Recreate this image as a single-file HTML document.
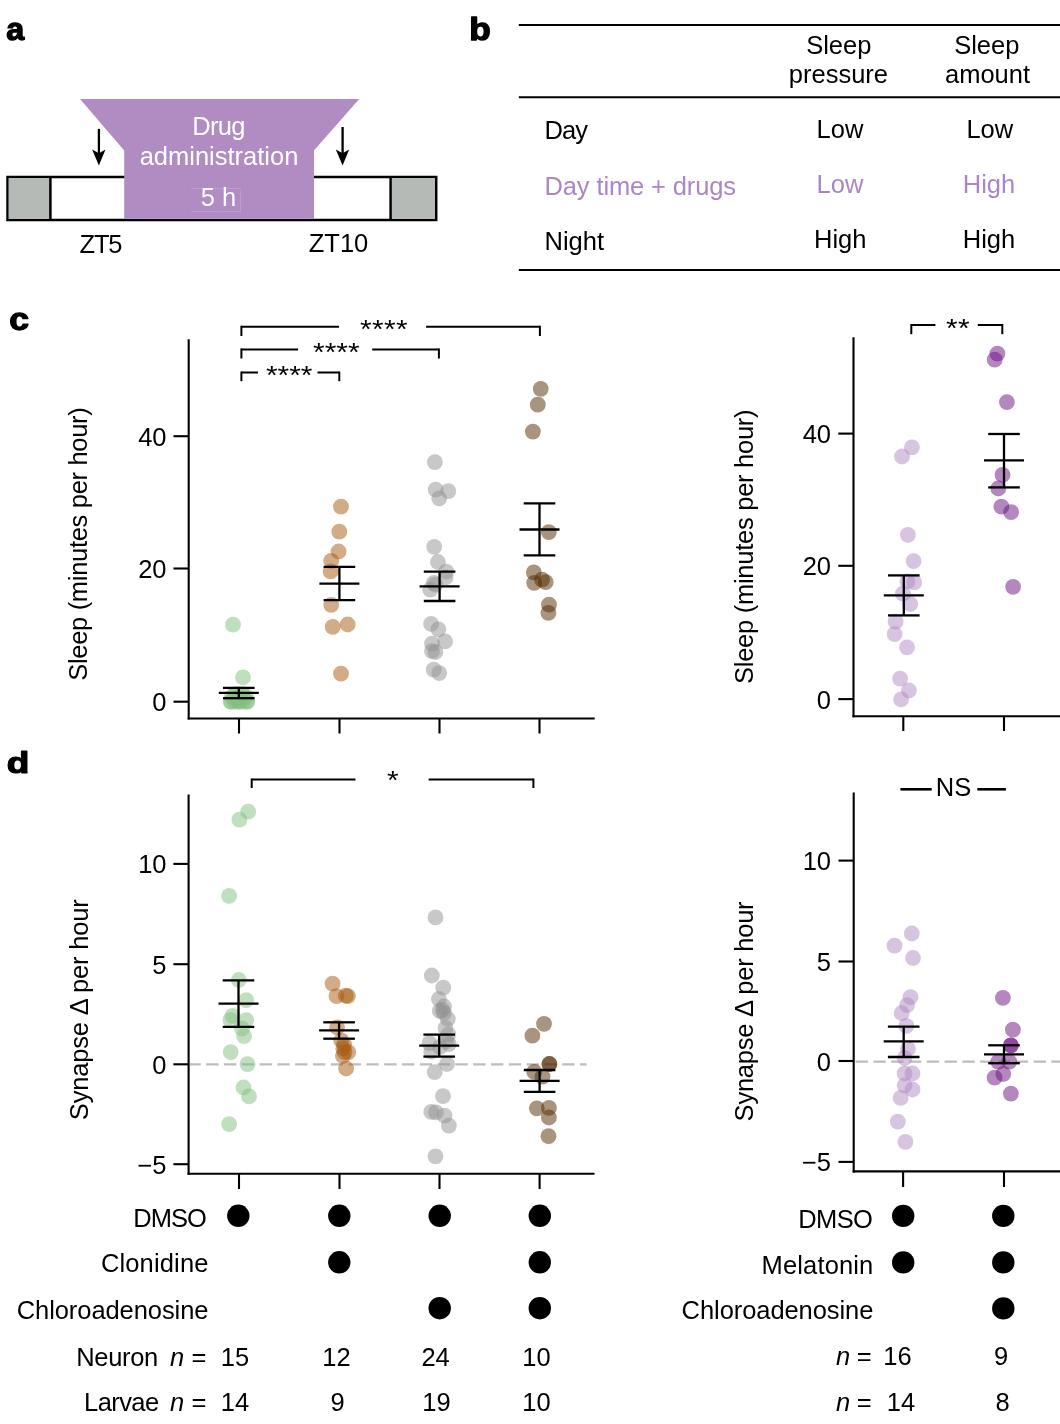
<!DOCTYPE html>
<html><head><meta charset="utf-8"><title>Figure</title>
<style>
html,body{margin:0;padding:0;background:#fff;}
body{width:1060px;height:1424px;overflow:hidden;}
svg{display:block;font-family:"Liberation Sans", sans-serif;will-change:transform;}
</style></head><body>
<svg width="1060" height="1424" viewBox="0 0 1060 1424">
<rect width="1060" height="1424" fill="#fff"/>
<text transform="translate(6.25,39.60) scale(1.011,0.997)" font-size="32" font-weight="bold" stroke="#000" stroke-width="1.3" stroke-linejoin="round">a</text>
<text transform="translate(469.15,39.51) scale(1.101,0.986)" font-size="32" font-weight="bold" stroke="#000" stroke-width="1.3" stroke-linejoin="round">b</text>
<text transform="translate(9.24,329.62) scale(1.112,0.976)" font-size="32" font-weight="bold" stroke="#000" stroke-width="1.3" stroke-linejoin="round">c</text>
<text transform="translate(6.63,773.25) scale(1.154,0.949)" font-size="32" font-weight="bold" stroke="#000" stroke-width="1.3" stroke-linejoin="round">d</text>
<rect x="7.5" y="177" width="428.7" height="43" fill="#fff" stroke="#000" stroke-width="2.5"/>
<rect x="8.75" y="178.25" width="41.6" height="40.5" fill="#B5BAB7"/>
<rect x="391.8" y="178.25" width="43.2" height="40.5" fill="#B5BAB7"/>
<line x1="50.4" y1="177" x2="50.4" y2="220" stroke="#000" stroke-width="2.5" />
<line x1="390.6" y1="177" x2="390.6" y2="220" stroke="#000" stroke-width="2.5" />
<polygon points="80,99 359.2,99 314,150.4 314,218.7 124.2,218.7 124.2,150.4" fill="#B08CC3"/>
<line x1="98.9" y1="128.9" x2="98.9" y2="156" stroke="#000" stroke-width="2.3" />
<polygon points="92.10000000000001,149.6 98.9,153.2 105.5,149.6 98.9,165.5" fill="#000"/>
<line x1="342.6" y1="127" x2="342.6" y2="156" stroke="#000" stroke-width="2.3" />
<polygon points="335.8,149.6 342.6,153.2 349.20000000000005,149.6 342.6,165.5" fill="#000"/>
<text x="218.9" y="135.1" text-anchor="middle" font-size="25.5" fill="#fff" font-weight="normal"  textLength="53.3" lengthAdjust="spacing">Drug</text>
<text x="219" y="165.3" text-anchor="middle" font-size="25.5" fill="#fff" font-weight="normal" >administration</text>
<path d="M191.1 188.6 H240.8 M240.6 191 V211.6 M191.1 211.6 H220.3 M221.3 211.6 H240.8" stroke="#BFA2D0" stroke-width="0.9" fill="none"/>
<text x="218.5" y="206.1" text-anchor="middle" font-size="25.5" fill="#fff" font-weight="normal" >5 h</text>
<text x="101" y="252.7" text-anchor="middle" font-size="25.5" fill="#000" font-weight="normal"  textLength="43" lengthAdjust="spacing">ZT5</text>
<text x="338.5" y="252" text-anchor="middle" font-size="25.5" fill="#000" font-weight="normal" >ZT10</text>
<line x1="518.8" y1="25" x2="1060" y2="25" stroke="#000" stroke-width="2" />
<line x1="518.8" y1="97.2" x2="1060" y2="97.2" stroke="#000" stroke-width="2" />
<line x1="518.8" y1="270" x2="1060" y2="270" stroke="#000" stroke-width="2" />
<text x="838.8" y="54.4" text-anchor="middle" font-size="25.5" fill="#000" font-weight="normal" >Sleep</text>
<text x="838.4" y="82.9" text-anchor="middle" font-size="25.5" fill="#000" font-weight="normal" >pressure</text>
<text x="986.8" y="54.4" text-anchor="middle" font-size="25.5" fill="#000" font-weight="normal" >Sleep</text>
<text x="987.5" y="82.9" text-anchor="middle" font-size="25.5" fill="#000" font-weight="normal" >amount</text>
<text x="544.5" y="138.8" text-anchor="start" font-size="25.5" fill="#000" font-weight="normal"  textLength="43.4" lengthAdjust="spacing">Day</text>
<text x="840" y="137.9" text-anchor="middle" font-size="25.5" fill="#000" font-weight="normal" >Low</text>
<text x="989.8" y="137.9" text-anchor="middle" font-size="25.5" fill="#000" font-weight="normal" >Low</text>
<text x="544.5" y="194.8" text-anchor="start" font-size="25.5" fill="#AC86C4" font-weight="normal"  textLength="191.6" lengthAdjust="spacing">Day time + drugs</text>
<text x="840" y="192.8" text-anchor="middle" font-size="25.5" fill="#AC86C4" font-weight="normal" >Low</text>
<text x="989" y="192.8" text-anchor="middle" font-size="25.5" fill="#AC86C4" font-weight="normal" >High</text>
<text x="544.5" y="249.6" text-anchor="start" font-size="25.5" fill="#000" font-weight="normal" >Night</text>
<text x="840.2" y="247.8" text-anchor="middle" font-size="25.5" fill="#000" font-weight="normal" >High</text>
<text x="989" y="247.8" text-anchor="middle" font-size="25.5" fill="#000" font-weight="normal" >High</text>
<line x1="188.7" y1="339.2" x2="188.7" y2="719.5" stroke="#000" stroke-width="2.1" />
<line x1="173.5" y1="701.7" x2="188.7" y2="701.7" stroke="#000" stroke-width="2.1" />
<text x="166.5" y="711.2" text-anchor="end" font-size="25.5" fill="#000" font-weight="normal" >0</text>
<line x1="173.5" y1="568.5" x2="188.7" y2="568.5" stroke="#000" stroke-width="2.1" />
<text x="166.5" y="578.0" text-anchor="end" font-size="25.5" fill="#000" font-weight="normal" >20</text>
<line x1="173.5" y1="436.2" x2="188.7" y2="436.2" stroke="#000" stroke-width="2.1" />
<text x="166.5" y="445.7" text-anchor="end" font-size="25.5" fill="#000" font-weight="normal" >40</text>
<line x1="187.7" y1="718.5" x2="594.7" y2="718.5" stroke="#000" stroke-width="2.1" />
<line x1="239" y1="718.5" x2="239" y2="733.5" stroke="#000" stroke-width="2.1" />
<line x1="339.5" y1="718.5" x2="339.5" y2="733.5" stroke="#000" stroke-width="2.1" />
<line x1="439.5" y1="718.5" x2="439.5" y2="733.5" stroke="#000" stroke-width="2.1" />
<line x1="539.5" y1="718.5" x2="539.5" y2="733.5" stroke="#000" stroke-width="2.1" />
<text x="0" y="0" text-anchor="middle" font-size="25.5" textLength="273.6" lengthAdjust="spacing" transform="translate(87.3,544) rotate(-90)">Sleep (minutes per hour)</text>
<line x1="241.4" y1="326.7" x2="339" y2="326.7" stroke="#000" stroke-width="2" />
<line x1="426.1" y1="326.7" x2="539.9" y2="326.7" stroke="#000" stroke-width="2" />
<line x1="241.4" y1="325.7" x2="241.4" y2="336" stroke="#000" stroke-width="2" />
<line x1="539.9" y1="325.7" x2="539.9" y2="336" stroke="#000" stroke-width="2" />
<text x="0" y="0" text-anchor="middle" font-size="25.5" transform="translate(365.69,337.6) scale(1.17,1.03)">*</text>
<text x="0" y="0" text-anchor="middle" font-size="25.5" transform="translate(377.76,337.6) scale(1.17,1.03)">*</text>
<text x="0" y="0" text-anchor="middle" font-size="25.5" transform="translate(389.84,337.6) scale(1.17,1.03)">*</text>
<text x="0" y="0" text-anchor="middle" font-size="25.5" transform="translate(401.91,337.6) scale(1.17,1.03)">*</text>
<line x1="241.4" y1="349.4" x2="298.1" y2="349.4" stroke="#000" stroke-width="2" />
<line x1="372.2" y1="349.4" x2="438.9" y2="349.4" stroke="#000" stroke-width="2" />
<line x1="241.4" y1="348.4" x2="241.4" y2="358.5" stroke="#000" stroke-width="2" />
<line x1="438.9" y1="348.4" x2="438.9" y2="358.5" stroke="#000" stroke-width="2" />
<text x="0" y="0" text-anchor="middle" font-size="25.5" transform="translate(318.90,361.2) scale(1.17,1.03)">*</text>
<text x="0" y="0" text-anchor="middle" font-size="25.5" transform="translate(330.50,361.2) scale(1.17,1.03)">*</text>
<text x="0" y="0" text-anchor="middle" font-size="25.5" transform="translate(342.10,361.2) scale(1.17,1.03)">*</text>
<text x="0" y="0" text-anchor="middle" font-size="25.5" transform="translate(353.70,361.2) scale(1.17,1.03)">*</text>
<line x1="241.4" y1="372.5" x2="258" y2="372.5" stroke="#000" stroke-width="2" />
<line x1="317.5" y1="372.5" x2="339.3" y2="372.5" stroke="#000" stroke-width="2" />
<line x1="241.4" y1="371.5" x2="241.4" y2="381.2" stroke="#000" stroke-width="2" />
<line x1="339.3" y1="371.5" x2="339.3" y2="381.2" stroke="#000" stroke-width="2" />
<text x="0" y="0" text-anchor="middle" font-size="25.5" transform="translate(271.80,384.1) scale(1.17,1.03)">*</text>
<text x="0" y="0" text-anchor="middle" font-size="25.5" transform="translate(283.40,384.1) scale(1.17,1.03)">*</text>
<text x="0" y="0" text-anchor="middle" font-size="25.5" transform="translate(295.00,384.1) scale(1.17,1.03)">*</text>
<text x="0" y="0" text-anchor="middle" font-size="25.5" transform="translate(306.60,384.1) scale(1.17,1.03)">*</text>
<circle cx="233" cy="624.7" r="7.9" fill="#81BF7D" fill-opacity="0.5"/>
<circle cx="243" cy="677.4" r="7.9" fill="#81BF7D" fill-opacity="0.5"/>
<circle cx="231" cy="701.7" r="7.9" fill="#81BF7D" fill-opacity="0.5"/>
<circle cx="235" cy="701.7" r="7.9" fill="#81BF7D" fill-opacity="0.5"/>
<circle cx="239" cy="701.7" r="7.9" fill="#81BF7D" fill-opacity="0.5"/>
<circle cx="243" cy="701.7" r="7.9" fill="#81BF7D" fill-opacity="0.5"/>
<circle cx="247" cy="701.7" r="7.9" fill="#81BF7D" fill-opacity="0.5"/>
<circle cx="231" cy="701.7" r="7.9" fill="#81BF7D" fill-opacity="0.5"/>
<circle cx="247" cy="701.7" r="7.9" fill="#81BF7D" fill-opacity="0.5"/>
<circle cx="239" cy="701.7" r="7.9" fill="#81BF7D" fill-opacity="0.5"/>
<circle cx="232" cy="696.5" r="7.9" fill="#81BF7D" fill-opacity="0.5"/>
<circle cx="246" cy="696.5" r="7.9" fill="#81BF7D" fill-opacity="0.5"/>
<circle cx="236" cy="694" r="7.9" fill="#81BF7D" fill-opacity="0.5"/>
<circle cx="242" cy="694" r="7.9" fill="#81BF7D" fill-opacity="0.5"/>
<circle cx="341" cy="506.6" r="7.9" fill="#A5590F" fill-opacity="0.5"/>
<circle cx="339.3" cy="531.7" r="7.9" fill="#A5590F" fill-opacity="0.5"/>
<circle cx="338.6" cy="551.5" r="7.9" fill="#A5590F" fill-opacity="0.5"/>
<circle cx="331.2" cy="560.9" r="7.9" fill="#A5590F" fill-opacity="0.5"/>
<circle cx="330.6" cy="571.4" r="7.9" fill="#A5590F" fill-opacity="0.5"/>
<circle cx="331.2" cy="604.8" r="7.9" fill="#A5590F" fill-opacity="0.5"/>
<circle cx="332.7" cy="626.8" r="7.9" fill="#A5590F" fill-opacity="0.5"/>
<circle cx="347.7" cy="624.5" r="7.9" fill="#A5590F" fill-opacity="0.5"/>
<circle cx="341" cy="673.6" r="7.9" fill="#A5590F" fill-opacity="0.5"/>
<circle cx="434.9" cy="462.1" r="7.9" fill="#919191" fill-opacity="0.5"/>
<circle cx="435.7" cy="489.6" r="7.9" fill="#919191" fill-opacity="0.5"/>
<circle cx="448.3" cy="491.2" r="7.9" fill="#919191" fill-opacity="0.5"/>
<circle cx="439.2" cy="498.3" r="7.9" fill="#919191" fill-opacity="0.5"/>
<circle cx="434.2" cy="546.8" r="7.9" fill="#919191" fill-opacity="0.5"/>
<circle cx="437.9" cy="562" r="7.9" fill="#919191" fill-opacity="0.5"/>
<circle cx="446.3" cy="571.6" r="7.9" fill="#919191" fill-opacity="0.5"/>
<circle cx="445.5" cy="577.4" r="7.9" fill="#919191" fill-opacity="0.5"/>
<circle cx="433.7" cy="583" r="7.9" fill="#919191" fill-opacity="0.5"/>
<circle cx="435.4" cy="584.7" r="7.9" fill="#919191" fill-opacity="0.5"/>
<circle cx="430.3" cy="589.7" r="7.9" fill="#919191" fill-opacity="0.5"/>
<circle cx="431.1" cy="623.9" r="7.9" fill="#919191" fill-opacity="0.5"/>
<circle cx="438.4" cy="629.3" r="7.9" fill="#919191" fill-opacity="0.5"/>
<circle cx="445.1" cy="641.4" r="7.9" fill="#919191" fill-opacity="0.5"/>
<circle cx="432" cy="643.6" r="7.9" fill="#919191" fill-opacity="0.5"/>
<circle cx="432" cy="651.2" r="7.9" fill="#919191" fill-opacity="0.5"/>
<circle cx="435.4" cy="652" r="7.9" fill="#919191" fill-opacity="0.5"/>
<circle cx="433.7" cy="669.7" r="7.9" fill="#919191" fill-opacity="0.5"/>
<circle cx="439.2" cy="673.1" r="7.9" fill="#919191" fill-opacity="0.5"/>
<circle cx="540.7" cy="388.8" r="7.9" fill="#512900" fill-opacity="0.5"/>
<circle cx="537.8" cy="404.7" r="7.9" fill="#512900" fill-opacity="0.5"/>
<circle cx="532.9" cy="431.6" r="7.9" fill="#512900" fill-opacity="0.5"/>
<circle cx="548.8" cy="532.2" r="7.9" fill="#512900" fill-opacity="0.5"/>
<circle cx="533.8" cy="572.4" r="7.9" fill="#512900" fill-opacity="0.5"/>
<circle cx="534.2" cy="582.8" r="7.9" fill="#512900" fill-opacity="0.5"/>
<circle cx="542" cy="579.7" r="7.9" fill="#512900" fill-opacity="0.5"/>
<circle cx="545.7" cy="582.2" r="7.9" fill="#512900" fill-opacity="0.5"/>
<circle cx="549" cy="604.7" r="7.9" fill="#512900" fill-opacity="0.5"/>
<circle cx="548.4" cy="612.9" r="7.9" fill="#512900" fill-opacity="0.5"/>
<line x1="218.8" y1="692.9" x2="258.8" y2="692.9" stroke="#000" stroke-width="2.3" />
<line x1="223.0" y1="687.9" x2="254.60000000000002" y2="687.9" stroke="#000" stroke-width="2.3" />
<line x1="223.0" y1="698.2" x2="254.60000000000002" y2="698.2" stroke="#000" stroke-width="2.3" />
<line x1="238.8" y1="687.9" x2="238.8" y2="698.2" stroke="#000" stroke-width="2.3" />
<line x1="319.4" y1="583.6" x2="359.4" y2="583.6" stroke="#000" stroke-width="2.3" />
<line x1="323.59999999999997" y1="566.8" x2="355.2" y2="566.8" stroke="#000" stroke-width="2.3" />
<line x1="323.59999999999997" y1="600.2" x2="355.2" y2="600.2" stroke="#000" stroke-width="2.3" />
<line x1="339.4" y1="566.8" x2="339.4" y2="600.2" stroke="#000" stroke-width="2.3" />
<line x1="419.6" y1="586.4" x2="459.6" y2="586.4" stroke="#000" stroke-width="2.3" />
<line x1="423.8" y1="571.6" x2="455.40000000000003" y2="571.6" stroke="#000" stroke-width="2.3" />
<line x1="423.8" y1="601" x2="455.40000000000003" y2="601" stroke="#000" stroke-width="2.3" />
<line x1="439.6" y1="571.6" x2="439.6" y2="601" stroke="#000" stroke-width="2.3" />
<line x1="519.5" y1="529.5" x2="559.5" y2="529.5" stroke="#000" stroke-width="2.3" />
<line x1="523.7" y1="503.3" x2="555.3" y2="503.3" stroke="#000" stroke-width="2.3" />
<line x1="523.7" y1="555.4" x2="555.3" y2="555.4" stroke="#000" stroke-width="2.3" />
<line x1="539.5" y1="503.3" x2="539.5" y2="555.4" stroke="#000" stroke-width="2.3" />
<line x1="853.5" y1="337.3" x2="853.5" y2="717.2" stroke="#000" stroke-width="2.1" />
<line x1="838.3" y1="699.1" x2="853.5" y2="699.1" stroke="#000" stroke-width="2.1" />
<text x="831" y="708.6" text-anchor="end" font-size="25.5" fill="#000" font-weight="normal" >0</text>
<line x1="838.3" y1="565.8" x2="853.5" y2="565.8" stroke="#000" stroke-width="2.1" />
<text x="831" y="575.3" text-anchor="end" font-size="25.5" fill="#000" font-weight="normal" >20</text>
<line x1="838.3" y1="433.6" x2="853.5" y2="433.6" stroke="#000" stroke-width="2.1" />
<text x="831" y="443.1" text-anchor="end" font-size="25.5" fill="#000" font-weight="normal" >40</text>
<line x1="852.5" y1="716.2" x2="1062" y2="716.2" stroke="#000" stroke-width="2.1" />
<line x1="903.3" y1="716.2" x2="903.3" y2="731" stroke="#000" stroke-width="2.1" />
<line x1="1004" y1="716.2" x2="1004" y2="731" stroke="#000" stroke-width="2.1" />
<text x="0" y="0" text-anchor="middle" font-size="25.5" textLength="274.6" lengthAdjust="spacing" transform="translate(752.5,546.7) rotate(-90)">Sleep (minutes per hour)</text>
<line x1="911.3" y1="325" x2="935.4" y2="325" stroke="#000" stroke-width="2" />
<line x1="977.8" y1="325" x2="1002.3" y2="325" stroke="#000" stroke-width="2" />
<line x1="911.3" y1="324" x2="911.3" y2="334.2" stroke="#000" stroke-width="2" />
<line x1="1002.3" y1="324" x2="1002.3" y2="334.2" stroke="#000" stroke-width="2" />
<text x="0" y="0" text-anchor="middle" font-size="25.5" transform="translate(951.87,336.8) scale(1.17,1.03)">*</text>
<text x="0" y="0" text-anchor="middle" font-size="25.5" transform="translate(963.93,336.8) scale(1.17,1.03)">*</text>
<circle cx="911.9" cy="447.3" r="7.9" fill="#AF89C3" fill-opacity="0.5"/>
<circle cx="902" cy="456.5" r="7.9" fill="#AF89C3" fill-opacity="0.5"/>
<circle cx="907.9" cy="534.8" r="7.9" fill="#AF89C3" fill-opacity="0.5"/>
<circle cx="913.6" cy="561.1" r="7.9" fill="#AF89C3" fill-opacity="0.5"/>
<circle cx="914.2" cy="582.4" r="7.9" fill="#AF89C3" fill-opacity="0.5"/>
<circle cx="907.4" cy="581.4" r="7.9" fill="#AF89C3" fill-opacity="0.5"/>
<circle cx="903" cy="593.6" r="7.9" fill="#AF89C3" fill-opacity="0.5"/>
<circle cx="910.3" cy="604" r="7.9" fill="#AF89C3" fill-opacity="0.5"/>
<circle cx="895.6" cy="621.7" r="7.9" fill="#AF89C3" fill-opacity="0.5"/>
<circle cx="894.6" cy="634.1" r="7.9" fill="#AF89C3" fill-opacity="0.5"/>
<circle cx="907" cy="647.3" r="7.9" fill="#AF89C3" fill-opacity="0.5"/>
<circle cx="900.1" cy="678.7" r="7.9" fill="#AF89C3" fill-opacity="0.5"/>
<circle cx="908.9" cy="690.5" r="7.9" fill="#AF89C3" fill-opacity="0.5"/>
<circle cx="901.1" cy="699.4" r="7.9" fill="#AF89C3" fill-opacity="0.5"/>
<circle cx="997.4" cy="353.7" r="7.9" fill="#690F7D" fill-opacity="0.5"/>
<circle cx="994.7" cy="359.7" r="7.9" fill="#690F7D" fill-opacity="0.5"/>
<circle cx="1006.9" cy="402.1" r="7.9" fill="#690F7D" fill-opacity="0.5"/>
<circle cx="1002.5" cy="474.9" r="7.9" fill="#690F7D" fill-opacity="0.5"/>
<circle cx="998.3" cy="488.4" r="7.9" fill="#690F7D" fill-opacity="0.5"/>
<circle cx="1001.4" cy="506.7" r="7.9" fill="#690F7D" fill-opacity="0.5"/>
<circle cx="1011.1" cy="512.2" r="7.9" fill="#690F7D" fill-opacity="0.5"/>
<circle cx="1013.1" cy="586.8" r="7.9" fill="#690F7D" fill-opacity="0.5"/>
<line x1="883.8" y1="595.4" x2="923.8" y2="595.4" stroke="#000" stroke-width="2.3" />
<line x1="888.0" y1="575.4" x2="919.5999999999999" y2="575.4" stroke="#000" stroke-width="2.3" />
<line x1="888.0" y1="615.4" x2="919.5999999999999" y2="615.4" stroke="#000" stroke-width="2.3" />
<line x1="903.8" y1="575.4" x2="903.8" y2="615.4" stroke="#000" stroke-width="2.3" />
<line x1="984" y1="460.3" x2="1024" y2="460.3" stroke="#000" stroke-width="2.3" />
<line x1="988.2" y1="434" x2="1019.8" y2="434" stroke="#000" stroke-width="2.3" />
<line x1="988.2" y1="487.4" x2="1019.8" y2="487.4" stroke="#000" stroke-width="2.3" />
<line x1="1004" y1="434" x2="1004" y2="487.4" stroke="#000" stroke-width="2.3" />
<line x1="188.4" y1="1064.3" x2="586.6" y2="1064.3" stroke="#BDBDBD" stroke-width="2.2" stroke-dasharray="12.3 5.5"/>
<line x1="188.6" y1="794.4" x2="188.6" y2="1174.8" stroke="#000" stroke-width="2.1" />
<line x1="173.4" y1="863.9" x2="188.6" y2="863.9" stroke="#000" stroke-width="2.1" />
<text x="166.5" y="873.4" text-anchor="end" font-size="25.5" fill="#000" font-weight="normal" >10</text>
<line x1="173.4" y1="964.2" x2="188.6" y2="964.2" stroke="#000" stroke-width="2.1" />
<text x="166.5" y="973.7" text-anchor="end" font-size="25.5" fill="#000" font-weight="normal" >5</text>
<line x1="173.4" y1="1064.3" x2="188.6" y2="1064.3" stroke="#000" stroke-width="2.1" />
<text x="166.5" y="1073.8" text-anchor="end" font-size="25.5" fill="#000" font-weight="normal" >0</text>
<line x1="173.4" y1="1164.2" x2="188.6" y2="1164.2" stroke="#000" stroke-width="2.1" />
<text x="166.5" y="1173.7" text-anchor="end" font-size="25.5" fill="#000" font-weight="normal" >−5</text>
<line x1="187.5" y1="1173.8" x2="594.5" y2="1173.8" stroke="#000" stroke-width="2.1" />
<line x1="239" y1="1173.8" x2="239" y2="1189" stroke="#000" stroke-width="2.1" />
<line x1="339.5" y1="1173.8" x2="339.5" y2="1189" stroke="#000" stroke-width="2.1" />
<line x1="439.5" y1="1173.8" x2="439.5" y2="1189" stroke="#000" stroke-width="2.1" />
<line x1="539.6" y1="1173.8" x2="539.6" y2="1189" stroke="#000" stroke-width="2.1" />
<text x="0" y="0" text-anchor="middle" font-size="25.5" textLength="221" lengthAdjust="spacing" transform="translate(87.8,1009.7) rotate(-90)">Synapse Δ per hour</text>
<line x1="251.7" y1="779.5" x2="355.5" y2="779.5" stroke="#000" stroke-width="2" />
<line x1="428.6" y1="779.5" x2="533.4" y2="779.5" stroke="#000" stroke-width="2" />
<line x1="251.7" y1="778.5" x2="251.7" y2="788" stroke="#000" stroke-width="2" />
<line x1="533.4" y1="778.5" x2="533.4" y2="788" stroke="#000" stroke-width="2" />
<text x="0" y="0" text-anchor="middle" font-size="25.5" transform="translate(392.90,789.2) scale(1.17,1.03)">*</text>
<circle cx="248.2" cy="811.7" r="7.9" fill="#81BF7D" fill-opacity="0.5"/>
<circle cx="239.4" cy="819.6" r="7.9" fill="#81BF7D" fill-opacity="0.5"/>
<circle cx="229.1" cy="895.8" r="7.9" fill="#81BF7D" fill-opacity="0.5"/>
<circle cx="238.8" cy="980" r="7.9" fill="#81BF7D" fill-opacity="0.5"/>
<circle cx="246.2" cy="1000.1" r="7.9" fill="#81BF7D" fill-opacity="0.5"/>
<circle cx="232.5" cy="1015.9" r="7.9" fill="#81BF7D" fill-opacity="0.5"/>
<circle cx="230.4" cy="1020.1" r="7.9" fill="#81BF7D" fill-opacity="0.5"/>
<circle cx="246.2" cy="1020.1" r="7.9" fill="#81BF7D" fill-opacity="0.5"/>
<circle cx="242" cy="1028.5" r="7.9" fill="#81BF7D" fill-opacity="0.5"/>
<circle cx="244.1" cy="1036.2" r="7.9" fill="#81BF7D" fill-opacity="0.5"/>
<circle cx="230.7" cy="1052.1" r="7.9" fill="#81BF7D" fill-opacity="0.5"/>
<circle cx="247.5" cy="1064.2" r="7.9" fill="#81BF7D" fill-opacity="0.5"/>
<circle cx="243.5" cy="1087.5" r="7.9" fill="#81BF7D" fill-opacity="0.5"/>
<circle cx="249" cy="1096.4" r="7.9" fill="#81BF7D" fill-opacity="0.5"/>
<circle cx="229.1" cy="1124.1" r="7.9" fill="#81BF7D" fill-opacity="0.5"/>
<circle cx="332.6" cy="983.7" r="7.9" fill="#A5590F" fill-opacity="0.5"/>
<circle cx="336.5" cy="996.2" r="7.9" fill="#A5590F" fill-opacity="0.5"/>
<circle cx="345.8" cy="995.7" r="7.9" fill="#A5590F" fill-opacity="0.5"/>
<circle cx="347.9" cy="996.2" r="7.9" fill="#A5590F" fill-opacity="0.5"/>
<circle cx="337.1" cy="1027.3" r="7.9" fill="#A5590F" fill-opacity="0.5"/>
<circle cx="341.3" cy="1040.4" r="7.9" fill="#A5590F" fill-opacity="0.5"/>
<circle cx="344.1" cy="1044.6" r="7.9" fill="#A5590F" fill-opacity="0.5"/>
<circle cx="343.3" cy="1048.4" r="7.9" fill="#A5590F" fill-opacity="0.5"/>
<circle cx="348.3" cy="1052.2" r="7.9" fill="#A5590F" fill-opacity="0.5"/>
<circle cx="342.9" cy="1056" r="7.9" fill="#A5590F" fill-opacity="0.5"/>
<circle cx="344.5" cy="1052.2" r="7.9" fill="#A5590F" fill-opacity="0.5"/>
<circle cx="346.1" cy="1068.5" r="7.9" fill="#A5590F" fill-opacity="0.5"/>
<circle cx="435.5" cy="917.4" r="7.9" fill="#919191" fill-opacity="0.5"/>
<circle cx="431.8" cy="975.5" r="7.9" fill="#919191" fill-opacity="0.5"/>
<circle cx="443.2" cy="987.6" r="7.9" fill="#919191" fill-opacity="0.5"/>
<circle cx="438.9" cy="999" r="7.9" fill="#919191" fill-opacity="0.5"/>
<circle cx="444" cy="1006.5" r="7.9" fill="#919191" fill-opacity="0.5"/>
<circle cx="439.8" cy="1010.9" r="7.9" fill="#919191" fill-opacity="0.5"/>
<circle cx="444" cy="1012.8" r="7.9" fill="#919191" fill-opacity="0.5"/>
<circle cx="447.8" cy="1019" r="7.9" fill="#919191" fill-opacity="0.5"/>
<circle cx="445.5" cy="1028" r="7.9" fill="#919191" fill-opacity="0.5"/>
<circle cx="448.3" cy="1034.6" r="7.9" fill="#919191" fill-opacity="0.5"/>
<circle cx="429.4" cy="1043.1" r="7.9" fill="#919191" fill-opacity="0.5"/>
<circle cx="448.9" cy="1044.1" r="7.9" fill="#919191" fill-opacity="0.5"/>
<circle cx="431.3" cy="1051.7" r="7.9" fill="#919191" fill-opacity="0.5"/>
<circle cx="439.8" cy="1046.9" r="7.9" fill="#919191" fill-opacity="0.5"/>
<circle cx="446.4" cy="1041.2" r="7.9" fill="#919191" fill-opacity="0.5"/>
<circle cx="447" cy="1064" r="7.9" fill="#919191" fill-opacity="0.5"/>
<circle cx="434.7" cy="1072.1" r="7.9" fill="#919191" fill-opacity="0.5"/>
<circle cx="443" cy="1096.2" r="7.9" fill="#919191" fill-opacity="0.5"/>
<circle cx="431.3" cy="1111.9" r="7.9" fill="#919191" fill-opacity="0.5"/>
<circle cx="436" cy="1112.3" r="7.9" fill="#919191" fill-opacity="0.5"/>
<circle cx="444.5" cy="1115.7" r="7.9" fill="#919191" fill-opacity="0.5"/>
<circle cx="448.9" cy="1125.6" r="7.9" fill="#919191" fill-opacity="0.5"/>
<circle cx="435.5" cy="1156.3" r="7.9" fill="#919191" fill-opacity="0.5"/>
<circle cx="442.7" cy="1010" r="7.9" fill="#919191" fill-opacity="0.5"/>
<circle cx="544" cy="1023.8" r="7.9" fill="#512900" fill-opacity="0.5"/>
<circle cx="532.4" cy="1035.7" r="7.9" fill="#512900" fill-opacity="0.5"/>
<circle cx="549.4" cy="1064" r="7.9" fill="#512900" fill-opacity="0.5"/>
<circle cx="549.4" cy="1064" r="7.9" fill="#512900" fill-opacity="0.5"/>
<circle cx="534.3" cy="1071.9" r="7.9" fill="#512900" fill-opacity="0.5"/>
<circle cx="542.5" cy="1076.7" r="7.9" fill="#512900" fill-opacity="0.5"/>
<circle cx="536.8" cy="1108.3" r="7.9" fill="#512900" fill-opacity="0.5"/>
<circle cx="548.9" cy="1107.9" r="7.9" fill="#512900" fill-opacity="0.5"/>
<circle cx="548.9" cy="1117.5" r="7.9" fill="#512900" fill-opacity="0.5"/>
<circle cx="548.5" cy="1136.2" r="7.9" fill="#512900" fill-opacity="0.5"/>
<line x1="218.5" y1="1003.6" x2="258.5" y2="1003.6" stroke="#000" stroke-width="2.3" />
<line x1="222.7" y1="980.3" x2="254.3" y2="980.3" stroke="#000" stroke-width="2.3" />
<line x1="222.7" y1="1026.8" x2="254.3" y2="1026.8" stroke="#000" stroke-width="2.3" />
<line x1="238.5" y1="980.3" x2="238.5" y2="1026.8" stroke="#000" stroke-width="2.3" />
<line x1="319.1" y1="1030.3" x2="359.1" y2="1030.3" stroke="#000" stroke-width="2.3" />
<line x1="323.3" y1="1022.3" x2="354.90000000000003" y2="1022.3" stroke="#000" stroke-width="2.3" />
<line x1="323.3" y1="1038.7" x2="354.90000000000003" y2="1038.7" stroke="#000" stroke-width="2.3" />
<line x1="339.1" y1="1022.3" x2="339.1" y2="1038.7" stroke="#000" stroke-width="2.3" />
<line x1="419.2" y1="1045.6" x2="459.2" y2="1045.6" stroke="#000" stroke-width="2.3" />
<line x1="423.4" y1="1034.6" x2="455.0" y2="1034.6" stroke="#000" stroke-width="2.3" />
<line x1="423.4" y1="1056.6" x2="455.0" y2="1056.6" stroke="#000" stroke-width="2.3" />
<line x1="439.2" y1="1034.6" x2="439.2" y2="1056.6" stroke="#000" stroke-width="2.3" />
<line x1="519.6" y1="1080.8" x2="559.6" y2="1080.8" stroke="#000" stroke-width="2.3" />
<line x1="523.8000000000001" y1="1070" x2="555.4" y2="1070" stroke="#000" stroke-width="2.3" />
<line x1="523.8000000000001" y1="1091.9" x2="555.4" y2="1091.9" stroke="#000" stroke-width="2.3" />
<line x1="539.6" y1="1070" x2="539.6" y2="1091.9" stroke="#000" stroke-width="2.3" />
<line x1="855.6" y1="1061.6" x2="1060" y2="1061.6" stroke="#BDBDBD" stroke-width="2.2" stroke-dasharray="12.3 5.5"/>
<line x1="853.7" y1="792.6" x2="853.7" y2="1172.4" stroke="#000" stroke-width="2.1" />
<line x1="838.5" y1="860.6" x2="853.7" y2="860.6" stroke="#000" stroke-width="2.1" />
<text x="831" y="870.1" text-anchor="end" font-size="25.5" fill="#000" font-weight="normal" >10</text>
<line x1="838.5" y1="961.5" x2="853.7" y2="961.5" stroke="#000" stroke-width="2.1" />
<text x="831" y="971.0" text-anchor="end" font-size="25.5" fill="#000" font-weight="normal" >5</text>
<line x1="838.5" y1="1061" x2="853.7" y2="1061" stroke="#000" stroke-width="2.1" />
<text x="831" y="1070.5" text-anchor="end" font-size="25.5" fill="#000" font-weight="normal" >0</text>
<line x1="838.5" y1="1161.9" x2="853.7" y2="1161.9" stroke="#000" stroke-width="2.1" />
<text x="831" y="1171.4" text-anchor="end" font-size="25.5" fill="#000" font-weight="normal" >−5</text>
<line x1="852.7" y1="1171.4" x2="1062" y2="1171.4" stroke="#000" stroke-width="2.1" />
<line x1="903.1" y1="1171.4" x2="903.1" y2="1187" stroke="#000" stroke-width="2.1" />
<line x1="1004" y1="1171.4" x2="1004" y2="1187" stroke="#000" stroke-width="2.1" />
<text x="0" y="0" text-anchor="middle" font-size="25.5" textLength="220" lengthAdjust="spacing" transform="translate(752.8,1011.4) rotate(-90)">Synapse Δ per hour</text>
<line x1="900.4" y1="789.3" x2="931.7" y2="789.3" stroke="#000" stroke-width="2.6" />
<line x1="977.3" y1="789.3" x2="1005.9" y2="789.3" stroke="#000" stroke-width="2.6" />
<text x="953.5" y="795.8" text-anchor="middle" font-size="25.5" fill="#000" font-weight="normal" >NS</text>
<circle cx="911.8" cy="933.5" r="7.9" fill="#AF89C3" fill-opacity="0.5"/>
<circle cx="894.5" cy="945.6" r="7.9" fill="#AF89C3" fill-opacity="0.5"/>
<circle cx="913" cy="958" r="7.9" fill="#AF89C3" fill-opacity="0.5"/>
<circle cx="910.5" cy="997.2" r="7.9" fill="#AF89C3" fill-opacity="0.5"/>
<circle cx="907.1" cy="1005.2" r="7.9" fill="#AF89C3" fill-opacity="0.5"/>
<circle cx="901.7" cy="1013.1" r="7.9" fill="#AF89C3" fill-opacity="0.5"/>
<circle cx="906.3" cy="1025.9" r="7.9" fill="#AF89C3" fill-opacity="0.5"/>
<circle cx="908" cy="1049" r="7.9" fill="#AF89C3" fill-opacity="0.5"/>
<circle cx="904.6" cy="1058" r="7.9" fill="#AF89C3" fill-opacity="0.5"/>
<circle cx="904.6" cy="1073.5" r="7.9" fill="#AF89C3" fill-opacity="0.5"/>
<circle cx="912.5" cy="1073.5" r="7.9" fill="#AF89C3" fill-opacity="0.5"/>
<circle cx="904.6" cy="1085.3" r="7.9" fill="#AF89C3" fill-opacity="0.5"/>
<circle cx="912.5" cy="1089.5" r="7.9" fill="#AF89C3" fill-opacity="0.5"/>
<circle cx="900.7" cy="1097.9" r="7.9" fill="#AF89C3" fill-opacity="0.5"/>
<circle cx="897.8" cy="1121.6" r="7.9" fill="#AF89C3" fill-opacity="0.5"/>
<circle cx="905.4" cy="1141.8" r="7.9" fill="#AF89C3" fill-opacity="0.5"/>
<circle cx="1002.9" cy="997.8" r="7.9" fill="#690F7D" fill-opacity="0.5"/>
<circle cx="1012.9" cy="1029.7" r="7.9" fill="#690F7D" fill-opacity="0.5"/>
<circle cx="1010.9" cy="1045.3" r="7.9" fill="#690F7D" fill-opacity="0.5"/>
<circle cx="1010.9" cy="1045.3" r="7.9" fill="#690F7D" fill-opacity="0.5"/>
<circle cx="998.3" cy="1061.7" r="7.9" fill="#690F7D" fill-opacity="0.5"/>
<circle cx="1009.2" cy="1061.7" r="7.9" fill="#690F7D" fill-opacity="0.5"/>
<circle cx="1003.3" cy="1074" r="7.9" fill="#690F7D" fill-opacity="0.5"/>
<circle cx="994.6" cy="1077.7" r="7.9" fill="#690F7D" fill-opacity="0.5"/>
<circle cx="1010.9" cy="1093.6" r="7.9" fill="#690F7D" fill-opacity="0.5"/>
<line x1="883.7" y1="1041.4" x2="923.7" y2="1041.4" stroke="#000" stroke-width="2.3" />
<line x1="887.9000000000001" y1="1026.6" x2="919.5" y2="1026.6" stroke="#000" stroke-width="2.3" />
<line x1="887.9000000000001" y1="1057" x2="919.5" y2="1057" stroke="#000" stroke-width="2.3" />
<line x1="903.7" y1="1026.6" x2="903.7" y2="1057" stroke="#000" stroke-width="2.3" />
<line x1="984" y1="1054.4" x2="1024" y2="1054.4" stroke="#000" stroke-width="2.3" />
<line x1="988.2" y1="1045.3" x2="1019.8" y2="1045.3" stroke="#000" stroke-width="2.3" />
<line x1="988.2" y1="1063.2" x2="1019.8" y2="1063.2" stroke="#000" stroke-width="2.3" />
<line x1="1004" y1="1045.3" x2="1004" y2="1063.2" stroke="#000" stroke-width="2.3" />
<text x="206.8" y="1226.8" text-anchor="end" font-size="25.5" fill="#000" font-weight="normal"  textLength="73.6" lengthAdjust="spacing">DMSO</text>
<text x="208.4" y="1272.2" text-anchor="end" font-size="25.5" fill="#000" font-weight="normal"  textLength="107.5" lengthAdjust="spacing">Clonidine</text>
<text x="208.5" y="1318.5" text-anchor="end" font-size="25.5" fill="#000" font-weight="normal"  textLength="191.8" lengthAdjust="spacing">Chloroadenosine</text>
<circle cx="238.3" cy="1215.8" r="11.2" fill="#000"/>
<circle cx="339.3" cy="1215.8" r="11.2" fill="#000"/>
<circle cx="439.7" cy="1215.8" r="11.2" fill="#000"/>
<circle cx="539.8" cy="1215.8" r="11.2" fill="#000"/>
<circle cx="339.3" cy="1262.3" r="11.2" fill="#000"/>
<circle cx="539.8" cy="1262.3" r="11.2" fill="#000"/>
<circle cx="439.7" cy="1308.2" r="11.2" fill="#000"/>
<circle cx="539.8" cy="1308.2" r="11.2" fill="#000"/>
<text x="158.2" y="1365.6" text-anchor="end" font-size="25.5" fill="#000" font-weight="normal"  textLength="82" lengthAdjust="spacing">Neuron</text>
<text x="159.1" y="1411.4" text-anchor="end" font-size="25.5" fill="#000" font-weight="normal"  textLength="75" lengthAdjust="spacing">Larvae</text>
<text x="170" y="1365.6" font-size="25.5" font-style="italic">n</text>
<text x="206.5" y="1365.6" text-anchor="end" font-size="25.5" fill="#000" font-weight="normal" >=</text>
<text x="170" y="1411.4" font-size="25.5" font-style="italic">n</text>
<text x="206.5" y="1411.4" text-anchor="end" font-size="25.5" fill="#000" font-weight="normal" >=</text>
<text x="235" y="1365.6" text-anchor="middle" font-size="25.5" fill="#000" font-weight="normal" >15</text>
<text x="336.4" y="1365.6" text-anchor="middle" font-size="25.5" fill="#000" font-weight="normal" >12</text>
<text x="435.6" y="1365.6" text-anchor="middle" font-size="25.5" fill="#000" font-weight="normal" >24</text>
<text x="536.5" y="1365.6" text-anchor="middle" font-size="25.5" fill="#000" font-weight="normal" >10</text>
<text x="235" y="1411.4" text-anchor="middle" font-size="25.5" fill="#000" font-weight="normal" >14</text>
<text x="337.7" y="1411.4" text-anchor="middle" font-size="25.5" fill="#000" font-weight="normal" >9</text>
<text x="436.4" y="1411.4" text-anchor="middle" font-size="25.5" fill="#000" font-weight="normal" >19</text>
<text x="536.5" y="1411.4" text-anchor="middle" font-size="25.5" fill="#000" font-weight="normal" >10</text>
<text x="872.9" y="1227.5" text-anchor="end" font-size="25.5" fill="#000" font-weight="normal"  textLength="74.6" lengthAdjust="spacing">DMSO</text>
<text x="873.3" y="1273.5" text-anchor="end" font-size="25.5" fill="#000" font-weight="normal"  textLength="111.8" lengthAdjust="spacing">Melatonin</text>
<text x="873.4" y="1318.9" text-anchor="end" font-size="25.5" fill="#000" font-weight="normal"  textLength="191.8" lengthAdjust="spacing">Chloroadenosine</text>
<circle cx="903.2" cy="1215.9" r="11.2" fill="#000"/>
<circle cx="1003.3" cy="1215.9" r="11.2" fill="#000"/>
<circle cx="903.2" cy="1262.4" r="11.2" fill="#000"/>
<circle cx="1003.3" cy="1262.4" r="11.2" fill="#000"/>
<circle cx="1003.3" cy="1308.4" r="11.2" fill="#000"/>
<text x="836" y="1365.3" font-size="25.5" font-style="italic">n</text>
<text x="871.7" y="1365.3" text-anchor="end" font-size="25.5" fill="#000" font-weight="normal" >=</text>
<text x="836" y="1411.4" font-size="25.5" font-style="italic">n</text>
<text x="871.7" y="1411.4" text-anchor="end" font-size="25.5" fill="#000" font-weight="normal" >=</text>
<text x="897.4" y="1365.3" text-anchor="middle" font-size="25.5" fill="#000" font-weight="normal" >16</text>
<text x="1001.2" y="1365.3" text-anchor="middle" font-size="25.5" fill="#000" font-weight="normal" >9</text>
<text x="900.9" y="1411.4" text-anchor="middle" font-size="25.5" fill="#000" font-weight="normal" >14</text>
<text x="1002.5" y="1411.4" text-anchor="middle" font-size="25.5" fill="#000" font-weight="normal" >8</text>
</svg>
</body></html>
